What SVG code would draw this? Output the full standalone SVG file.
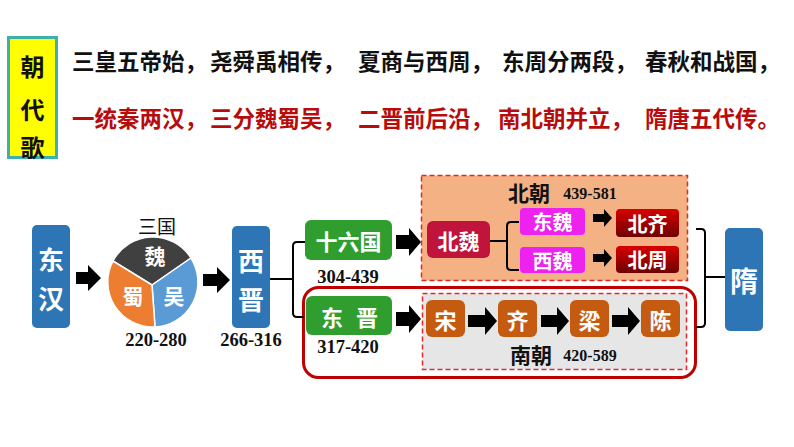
<svg xmlns="http://www.w3.org/2000/svg" width="794" height="447" viewBox="0 0 794 447">
<defs>
<linearGradient id="gRed" x1="0" y1="0" x2="0" y2="1">
<stop offset="0" stop-color="#d80000"/>
<stop offset="1" stop-color="#6e0000"/>
</linearGradient>
<style>
.cjk{font-family:"Noto Sans CJK SC","Noto Sans CJK TC",sans-serif;font-weight:700;dominant-baseline:central}
.poem{font-size:22.5px;fill:#111}
.poemr{font-size:22.5px;fill:#b80c0c}
.w{fill:#fff;text-anchor:middle}
.num{font-family:"Liberation Serif","Times New Roman",serif;font-weight:700;fill:#111;text-anchor:middle;dominant-baseline:central}
.blue{fill:#2e75b6}
.green{fill:#2f9e2f}
.mag{fill:#ee22ee}
.brown{fill:#c55a11}
.arr{fill:#000}
.br{fill:none;stroke:#000;stroke-width:2}
</style>
</defs>
<rect width="794" height="447" fill="#fff"/>

<g id="title">
<rect x="8.5" y="37.5" width="48" height="120" fill="#ffff00" stroke="#3cb0ac" stroke-width="3"/>
<text class="cjk" x="32.5" y="65" font-size="24" text-anchor="middle" fill="#111">朝</text>
<text class="cjk" x="32.5" y="108" font-size="24" text-anchor="middle" fill="#111">代</text>
<text class="cjk" x="32.5" y="146" font-size="24" text-anchor="middle" fill="#111">歌</text>
</g>

<g id="poem-line1">
<text class="cjk poem" x="72" y="60">三皇五帝始，</text>
<text class="cjk poem" x="210" y="60">尧舜禹相传，</text>
<text class="cjk poem" x="358" y="60">夏商与西周，</text>
<text class="cjk poem" x="502" y="60">东周分两段，</text>
<text class="cjk poem" x="645" y="60">春秋和战国，</text>
</g>
<g id="poem-line2">
<text class="cjk poemr" x="72" y="117">一统秦两汉，</text>
<text class="cjk poemr" x="210" y="117">三分魏蜀吴，</text>
<text class="cjk poemr" x="358" y="117">二晋前后沿，</text>
<text class="cjk poemr" x="498" y="117">南北朝并立，</text>
<text class="cjk poemr" x="645" y="117">隋唐五代传。</text>
</g>

<g id="regions">
<rect x="421.5" y="175.5" width="266" height="105" fill="#f4b183" stroke="#e02a2a" stroke-width="1.5" stroke-dasharray="5 3"/>
<rect x="422.5" y="293.5" width="264" height="76" fill="#e7e6e6" stroke="#e02a2a" stroke-width="1.5" stroke-dasharray="5 3"/>
<rect x="303.5" y="287.5" width="392" height="90" rx="15" fill="none" stroke="#c00000" stroke-width="3"/>
</g>

<g id="connectors">
<polygon class="arr" points="76,272 88,272 88,265 101,278 88,291 88,284 76,284"/>
<polygon class="arr" points="203,274 217,274 217,267 230,280 217,293 217,286 203,286"/>
<polygon class="arr" points="396,235 409,235 409,228 421,242 409,256 409,249 396,249"/>
<polygon class="arr" points="396,312 409,312 409,305 421,319 409,333 409,326 396,326"/>
<polygon class="arr" points="468,315 485,315 485,307 497,321 485,335 485,327 468,327"/>
<polygon class="arr" points="541,315 557,315 557,307 569,321 557,335 557,327 541,327"/>
<polygon class="arr" points="612,315 628,315 628,307 640,321 628,335 628,327 612,327"/>
<polygon class="arr" points="593,214 604,214 604,209 612,218 604,227 604,222 593,222"/>
<polygon class="arr" points="593,254 604,254 604,249 612,258 604,267 604,262 593,262"/>
<path class="br" d="M270 279 H293 M305 242 H297 Q293 242 293 246 V313 Q293 317 297 317 H304"/>
<path class="br" d="M490 241 H507 M519 222 H511 Q507 222 507 226 V266 Q507 270 511 270 H519"/>
<path class="br" d="M696 229 H701 Q705 229 705 233 V323 Q705 327 701 327 H696 M705 277 H725"/>
</g>

<g id="donghan">
<rect class="blue" x="32" y="225" width="38" height="103" rx="5"/>
<text class="cjk w" x="51" y="258" font-size="26">东</text>
<text class="cjk w" x="51" y="297" font-size="26">汉</text>
</g>

<g id="sanguo">
<text x="157" y="225" font-family="Noto Sans CJK SC,sans-serif" font-size="19" text-anchor="middle" dominant-baseline="central" fill="#111">三国</text>
<path d="M152 285 L113 261 A45 45 0 0 1 191 258 Z" fill="#404040" stroke="#fff" stroke-width="1.5"/>
<path d="M152 285 L191 258 A45 45 0 0 1 155 327 Z" fill="#5b9bd5" stroke="#fff" stroke-width="1.5"/>
<path d="M152 285 L155 327 A45 45 0 0 1 113 261 Z" fill="#ed7d31" stroke="#fff" stroke-width="1.5"/>
<text class="cjk w" x="155" y="255" font-size="21">魏</text>
<text class="cjk w" x="133" y="295" font-size="21">蜀</text>
<text class="cjk w" x="174" y="295" font-size="21">吴</text>
<text class="num" x="156" y="340" font-size="18.5">220-280</text>
</g>

<g id="xijin">
<rect class="blue" x="232" y="226" width="38" height="102" rx="5"/>
<text class="cjk w" x="251" y="259" font-size="26">西</text>
<text class="cjk w" x="251" y="298" font-size="26">晋</text>
<text class="num" x="251" y="340" font-size="18.5">266-316</text>
</g>

<g id="shiliuguo">
<rect class="green" x="305" y="220" width="87" height="40" rx="6"/>
<text class="cjk w" x="348.5" y="240" font-size="22">十六国</text>
<text class="num" x="348" y="277" font-size="18.5">304-439</text>
</g>

<g id="dongjin">
<rect class="green" x="306" y="296" width="86" height="39" rx="6"/>
<text class="cjk w" x="332" y="315.5" font-size="22">东</text>
<text class="cjk w" x="367" y="315.5" font-size="22">晋</text>
<text class="num" x="348" y="347" font-size="18.5">317-420</text>
</g>

<g id="beichao">
<text class="cjk" x="508" y="192" font-size="21" fill="#111">北朝</text>
<text class="num" x="590" y="193" font-size="16">439-581</text>
</g>

<g id="beiwei">
<rect x="427" y="221" width="63" height="37" rx="6" fill="#c0143c"/>
<text class="cjk w" x="458.5" y="239.5" font-size="21">北魏</text>
</g>

<g id="dongwei">
<rect class="mag" x="520" y="208" width="65" height="27" rx="4"/>
<text class="cjk w" x="552.5" y="221.5" font-size="20">东魏</text>
</g>

<g id="xiwei">
<rect class="mag" x="520" y="247" width="65" height="26" rx="4"/>
<text class="cjk w" x="552.5" y="260" font-size="20">西魏</text>
</g>

<g id="beiqi">
<rect x="616" y="209" width="63" height="28" rx="4" fill="url(#gRed)"/>
<text class="cjk w" x="647.5" y="223" font-size="20">北齐</text>
</g>

<g id="beizhou">
<rect x="616" y="246" width="63" height="27" rx="4" fill="url(#gRed)"/>
<text class="cjk w" x="647.5" y="259.5" font-size="20">北周</text>
</g>

<g id="song">
<rect class="brown" x="426" y="300" width="39" height="37" rx="6"/>
<text class="cjk w" x="445.5" y="318.5" font-size="22">宋</text>
</g>
<g id="qi">
<rect class="brown" x="498" y="300" width="39" height="37" rx="6"/>
<text class="cjk w" x="517.5" y="318.5" font-size="22">齐</text>
</g>
<g id="liang">
<rect class="brown" x="570" y="300" width="39" height="37" rx="6"/>
<text class="cjk w" x="589.5" y="318.5" font-size="22">梁</text>
</g>
<g id="chen">
<rect class="brown" x="641" y="300" width="39" height="37" rx="6"/>
<text class="cjk w" x="660.5" y="318.5" font-size="22">陈</text>
</g>

<g id="nanchao">
<text class="cjk" x="510" y="354" font-size="21" fill="#111">南朝</text>
<text class="num" x="590" y="355" font-size="16">420-589</text>
</g>

<g id="sui">
<rect class="blue" x="725" y="228" width="38" height="103" rx="5"/>
<text class="cjk w" x="744" y="280" font-size="28">隋</text>
</g>
</svg>
